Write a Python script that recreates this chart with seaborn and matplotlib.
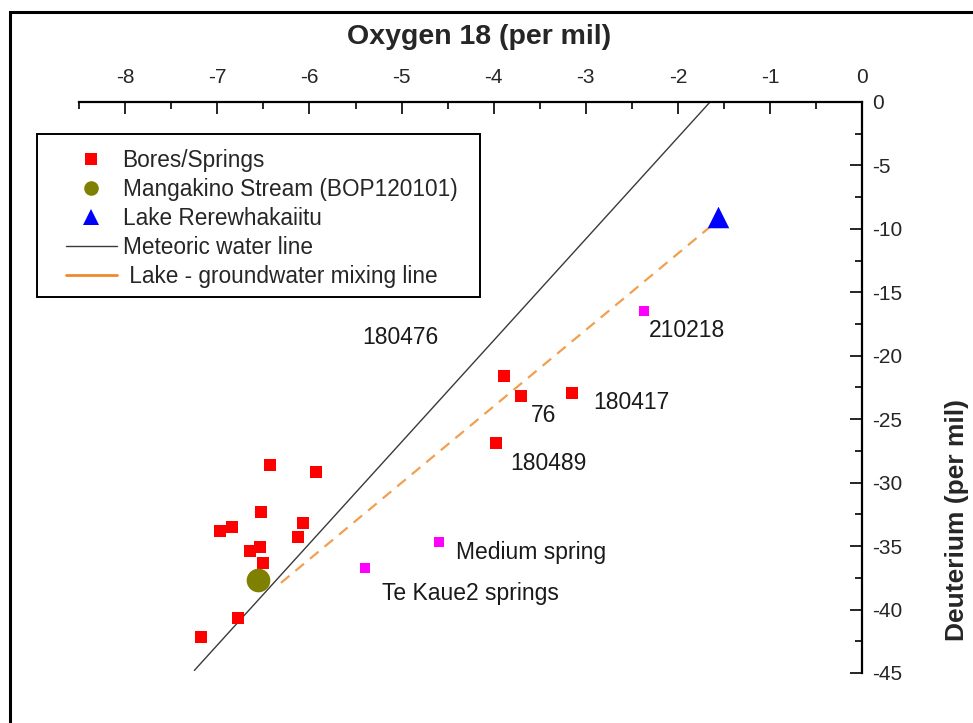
import matplotlib
matplotlib.use("Agg")
import matplotlib.pyplot as plt
import seaborn as sns
from matplotlib.lines import Line2D
from matplotlib.patches import Rectangle
from matplotlib.ticker import MultipleLocator, FixedLocator

# ---------------- data ----------------
bores_o18 = [-7.18, -6.78, -6.43, -5.93, -6.53, -6.97, -6.84, -6.07, -6.12,
             -6.65, -6.54, -6.50, -3.89, -3.70, -3.15, -3.97]
bores_dd = [-42.2, -40.7, -28.6, -29.2, -32.3, -33.8, -33.5, -33.2, -34.3,
            -35.4, -35.1, -36.3, -21.6, -23.2, -22.9, -26.9]
springs_o18 = [-4.59, -5.40, -2.37]
springs_dd = [-34.7, -36.7, -16.5]
stream_o18 = [-6.56]
stream_dd = [-37.7]
lake_o18 = [-1.56]
lake_dd = [-9.1]
mwl_o18 = [-7.25, -1.65]
mwl_dd = [-44.8, 0.0]
mix_o18 = [-6.31, -1.56]
mix_dd = [-37.9, -9.3]
label_text = ["180476", "210218", "76", "180417", "180489",
              "Medium spring", "Te Kaue2 springs"]
label_o18 = [-5.43, -2.31, -3.60, -2.92, -3.82, -4.41, -5.21]
label_dd = [-18.6, -18.05, -24.7, -23.7, -28.5, -35.5, -38.7]
x_ticks = [-8, -7, -6, -5, -4, -3, -2, -1, 0]
y_ticks = [0, -5, -10, -15, -20, -25, -30, -35, -40, -45]
legend_labels = ["Bores/Springs", "Mangakino Stream (BOP120101)",
                 "Lake Rerewhakaiitu", "Meteoric water line",
                 " Lake - groundwater mixing line"]

# ---------------- style ----------------
sns.set_style("white")
plt.rcParams["font.family"] = ["Liberation Sans", "DejaVu Sans"]

W, H = 973, 723
fig = plt.figure(figsize=(W / 100, H / 100), dpi=100)
ax = fig.add_axes([0.0814, 0.0692, 0.8046, 0.7898])

# lines
sns.lineplot(x=mwl_o18, y=mwl_dd, ax=ax, color="#3a3a3a", lw=1.0,
             sort=False, estimator=None, zorder=1)
sns.lineplot(x=mix_o18, y=mix_dd, ax=ax, color="#F0A050", lw=1.6,
             sort=False, estimator=None, zorder=1)
ax.lines[-1].set_dashes((5, 3.5))

# points
sns.scatterplot(x=bores_o18, y=bores_dd, ax=ax, marker="s", s=80,
                color="#FF0000", linewidth=0, zorder=3)
sns.scatterplot(x=springs_o18, y=springs_dd, ax=ax, marker="s", s=52,
                color="#FF00FF", linewidth=0, zorder=3)
sns.scatterplot(x=stream_o18, y=stream_dd, ax=ax, marker="o", s=290,
                color="#7F7F00", linewidth=0, zorder=3)
sns.scatterplot(x=lake_o18, y=lake_dd, ax=ax, marker="^", s=240,
                color="#0000FF", linewidth=0, zorder=4)

for t, xo, yd in zip(label_text, label_o18, label_dd):
    ax.text(xo, yd, t, ha="left", va="center", fontsize=16.5, color="#1a1a1a")

# axes
ax.set_xlim(-8.5, 0)
ax.set_ylim(-45, 0)
for side in ["left", "bottom"]:
    ax.spines[side].set_visible(False)
for side in ["top", "right"]:
    ax.spines[side].set_visible(True)
    ax.spines[side].set_linewidth(1.6)
    ax.spines[side].set_color("black")

ax.xaxis.set_ticks_position("top")
ax.xaxis.set_label_position("top")
ax.yaxis.set_ticks_position("right")
ax.yaxis.set_label_position("right")
ax.xaxis.set_major_locator(FixedLocator(x_ticks))
ax.yaxis.set_major_locator(FixedLocator(y_ticks))
ax.set_xticklabels([str(v) for v in x_ticks])
ax.set_yticklabels([str(v) for v in y_ticks])
ax.xaxis.set_minor_locator(MultipleLocator(0.5))
ax.yaxis.set_minor_locator(MultipleLocator(2.5))
ax.tick_params(axis="x", which="major", direction="in", length=8.5, width=1.4,
               labelsize=15, pad=11, top=True, bottom=False)
ax.tick_params(axis="x", which="minor", direction="in", length=5, width=1.4,
               top=True, bottom=False)
ax.tick_params(axis="y", which="major", direction="in", length=8.5, width=1.4,
               labelsize=15, pad=7, right=True, left=False)
ax.tick_params(axis="y", which="minor", direction="in", length=5, width=1.4,
               right=True, left=False)

ax.set_xlabel("Oxygen 18 (per mil)", fontsize=20.5, fontweight="bold")
ax.set_ylabel("Deuterium (per mil)", fontsize=19, fontweight="bold",
              rotation=90)
ax.xaxis.set_label_coords(0.511, 1.102)
ax.yaxis.set_label_coords(1.106, 0.268)
ax.grid(False)

# legend (frame drawn separately)
handles = [
    Line2D([], [], marker="s", ls="none", color="#FF0000", markersize=9,
           markeredgewidth=0),
    Line2D([], [], marker="o", ls="none", color="#7F7F00", markersize=10.5,
           markeredgewidth=0),
    Line2D([], [], marker="^", ls="none", color="#0000FF", markersize=11.5,
           markeredgewidth=0),
    Line2D([], [], color="#3a3a3a", lw=1.0),
    Line2D([], [], color="#F08A2A", lw=2.0),
]
leg = fig.legend(handles, legend_labels, loc="upper left",
                 bbox_to_anchor=(66 / W, 1 - 149 / H),
                 bbox_transform=fig.transFigure,
                 fontsize=16.3, frameon=False,
                 borderpad=0, labelspacing=0.26, handlelength=2.25,
                 handletextpad=0.25, borderaxespad=0)

fig.patches.append(Rectangle((37 / W, 1 - 297 / H), (480 - 37) / W,
                             (297 - 134) / H, transform=fig.transFigure,
                             fill=True, facecolor="white",
                             edgecolor="black", linewidth=1.4, zorder=0))

# outer frame
fig.patches.append(Rectangle((10 / W, -0.05), 1.2, 1 - 12 / H + 0.05,
                             transform=fig.transFigure, fill=False,
                             edgecolor="black", linewidth=2.2))

fig.savefig("out.png", dpi=100)
